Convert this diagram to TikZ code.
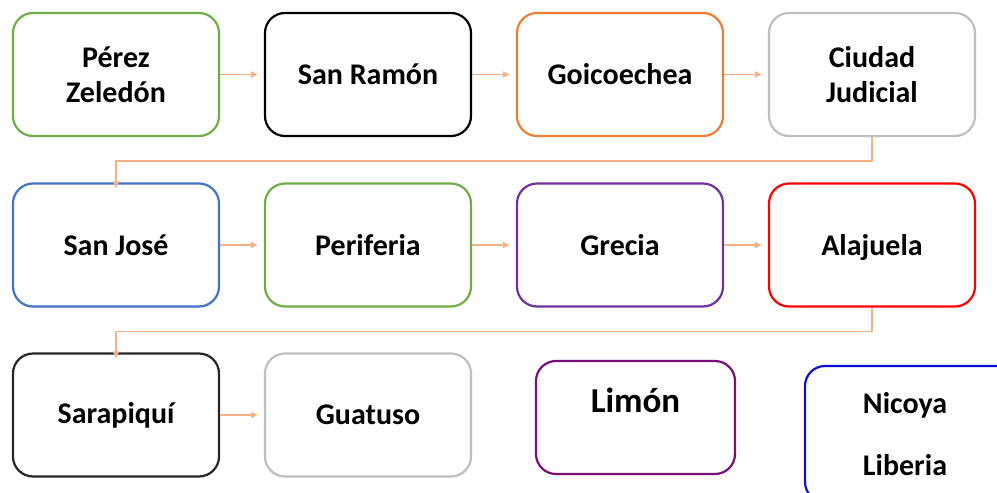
\documentclass[tikz,border=0pt]{standalone}
\usepackage{fontspec}
\setmainfont{Carlito}
\usetikzlibrary{arrows.meta}
\definecolor{cgreen}{HTML}{70AD47}
\definecolor{corange}{HTML}{ED7D31}
\definecolor{cgray}{HTML}{A5A5A5}
\definecolor{cblue}{HTML}{4472C4}
\definecolor{cpurple}{HTML}{7030A0}
\definecolor{cred}{HTML}{FF0000}
\definecolor{cdark}{HTML}{262626}
\definecolor{clgray}{HTML}{BFBFBF}
\definecolor{cplum}{HTML}{7A0F7A}
\definecolor{cnavy}{HTML}{0A10D8}
\definecolor{carrow}{HTML}{F4B183}
\tikzset{
  box/.style={draw, line width=2.2pt, rounded corners=20pt, minimum width=206pt, minimum height=123pt,
    inner sep=0pt, align=center, font=\bfseries\fontsize{30}{35}\selectfont, text=black, fill=white},
  link/.style={draw=carrow, line width=1.6pt, -{Triangle[length=7pt,width=6pt]}},
}
\begin{document}
\begin{tikzpicture}[x=1pt,y=-1pt]
\useasboundingbox (0,0) rectangle (997,493);
\clip (0,0) rectangle (997,493);
% row 1
\node[box, draw=cgreen]  (pz) at (116,74.5) {Pérez\\Zeledón};
\node[box, draw=black]   (sr) at (368,74.5) {San Ramón};
\node[box, draw=corange] (go) at (620,74.5) {Goicoechea};
\node[box, draw=clgray]  (cj) at (872,74.5) {Ciudad\\Judicial};
% row 2
\node[box, draw=cblue]   (sj) at (116,245) {San José};
\node[box, draw=cgreen]  (pe) at (368,245) {Periferia};
\node[box, draw=cpurple] (gr) at (620,245) {Grecia};
\node[box, draw=cred, text depth=0pt] (al) at (872,245) {Alajuela};
% row 3
\node[box, draw=cdark]   (sa) at (116,415) {Sarapiquí};
\node[box, draw=clgray]  (gu) at (368,415) {Guatuso};
% free boxes
\node[box, draw=cplum, minimum width=199pt, minimum height=113pt] (li) at (635.5,417.5) {};
\node[font=\bfseries\fontsize{35}{40}\selectfont] (lit) at (635.5,400) {Limón};
\node[box, draw=cnavy, minimum width=214pt, minimum height=136pt] (ni) at (912,434) {};
\node[font=\bfseries\fontsize{30}{35}\selectfont] (nit) at (905,405) {Nicoya};
\node[font=\bfseries\fontsize{30}{35}\selectfont] (lbt) at (905,465) {Liberia};
% connectors
\draw[link] (pz.east) -- ([xshift=-6pt]sr.west);
\draw[link] (sr.east) -- ([xshift=-6pt]go.west);
\draw[link] (go.east) -- ([xshift=-6pt]cj.west);
\draw[link] (sj.east) -- ([xshift=-6pt]pe.west);
\draw[link] (pe.east) -- ([xshift=-6pt]gr.west);
\draw[link] (gr.east) -- ([xshift=-6pt]al.west);
\draw[link] (sa.east) -- ([xshift=-6pt]gu.west);
\draw[link] (cj.south) -- ++(0,24) -| ([yshift=-6pt]sj.north);
\draw[link] (al.south) -- ++(0,24) -| ([yshift=-6pt]sa.north);
\end{tikzpicture}
\end{document}
